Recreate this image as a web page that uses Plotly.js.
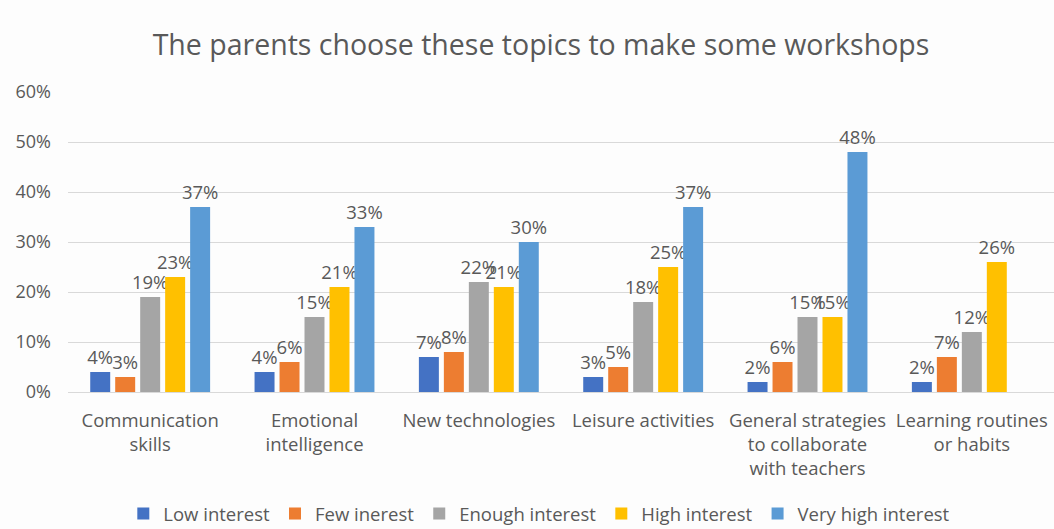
<!DOCTYPE html>
<html>
<head>
<meta charset="utf-8">
<script src="https://cdn.plot.ly/plotly-3.0.1.min.js"></script>
<style>html,body{margin:0;padding:0;background:#fdfdfd;overflow:hidden;}#chart{width:1054px;height:529px;overflow:hidden;}</style>
</head>
<body>
<div id="chart"></div>
<script>
const categories = ["Communication<br>skills", "Emotional<br>intelligence", "New technologies", "Leisure activities", "General strategies<br>to collaborate<br>with teachers", "Learning routines<br>or habits"];
const seriesNames = ["Low interest", "Few inerest", "Enough interest", "High interest", "Very high interest"];
const lowInterest = [0.04, 0.04, 0.07, 0.03, 0.02, 0.02];
const fewInterest = [0.03, 0.06, 0.08, 0.05, 0.06, 0.07];
const enoughInterest = [0.19, 0.15, 0.22, 0.18, 0.15, 0.12];
const highInterest = [0.23, 0.21, 0.21, 0.25, 0.15, 0.26];
const veryHighInterest = [0.37, 0.33, 0.30, 0.37, 0.48, null];
const colors = ["#4472C4", "#ED7D31", "#A5A5A5", "#FFC000", "#5B9BD5"];
const yTickVals = [0, 0.1, 0.2, 0.3, 0.4, 0.5, 0.6];
const yTickText = ["0%", "10%", "20%", "30%", "40%", "50%", "60%"];

const allSeries = [lowInterest, fewInterest, enoughInterest, highInterest, veryHighInterest];
const font = "Open Sans, sans-serif";
const grey = "#595959";

const traces = allSeries.map((vals, i) => ({
  type: "bar",
  name: seriesNames[i],
  x: categories,
  y: vals,
  marker: {color: colors[i]},
  text: vals.map(v => v === null ? "" : Math.round(v * 100) + "%"),
  textposition: "outside",
  constraintext: "none",
  cliponaxis: false,
  textfont: {family: font, size: 18.5, color: grey},
  hoverinfo: "skip"
}));

const H = 545;
const layout = {
  width: 1054,
  height: H,
  paper_bgcolor: "#fdfdfd",
  plot_bgcolor: "#fdfdfd",
  margin: {l: 68, r: 0, t: 92, b: H - 392},
  barmode: "group",
  bargap: 0.24,
  bargroupgap: 0.2,
  title: {
    text: "The parents choose these topics to make some workshops",
    font: {family: font, size: 28.5, color: grey},
    x: 541 / 1054, xanchor: "center", xref: "container",
    y: 1 - 45 / H, yanchor: "middle", yref: "container"
  },
  xaxis: {
    tickfont: {family: font, size: 18.5, color: grey},
    showline: true, linecolor: "#d9d9d9", linewidth: 1,
    ticks: "", automargin: false,
    ticklabelstandoff: 12
  },
  yaxis: {
    range: [0, 0.6],
    tickvals: yTickVals,
    ticktext: yTickText,
    tickfont: {family: font, size: 18, color: grey},
    showgrid: true, gridcolor: "#d9d9d9", gridwidth: 1,
    zeroline: false, showline: false, ticks: "",
    ticklabelstandoff: 16, automargin: false
  },
  showlegend: true,
  legend: {
    orientation: "h",
    x: 0.478, xanchor: "center",
    y: (392 - 514) / 300, yanchor: "middle",
    font: {family: font, size: 18.5, color: grey},
    itemwidth: 30,
    traceorder: "normal",
    bgcolor: "rgba(0,0,0,0)"
  }
};

Plotly.newPlot("chart", traces, layout, {displayModeBar: false, staticPlot: true});
</script>
</body>
</html>
